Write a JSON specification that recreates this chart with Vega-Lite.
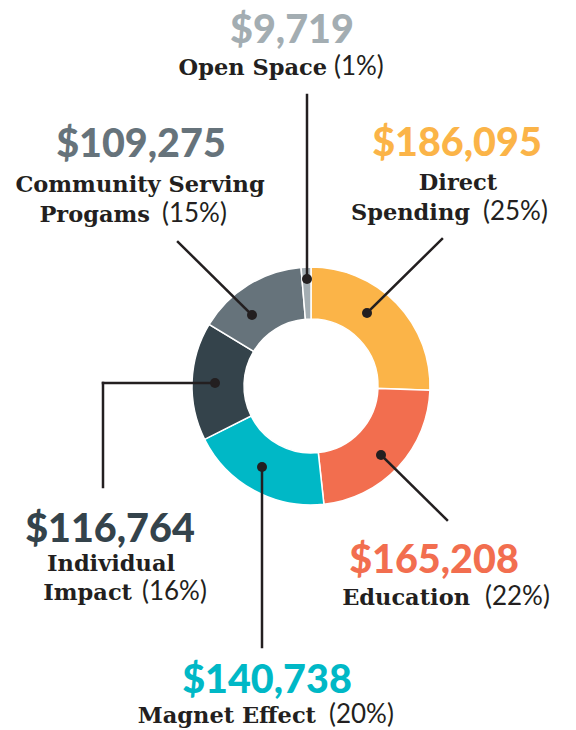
{
  "$schema": "https://vega.github.io/schema/vega-lite/v6.json",
  "width": 576,
  "height": 730,
  "autosize": {"type": "fit", "contains": "padding"},
  "padding": 0,
  "background": "white",
  "config": {"view": {"stroke": null}},
  "datasets": {
    "slices": [
      {"category": "Direct Spending", "amount": 186095, "rank": 1},
      {"category": "Education", "amount": 165208, "rank": 2},
      {"category": "Magnet Effect", "amount": 140738, "rank": 3},
      {"category": "Individual Impact", "amount": 116764, "rank": 4},
      {"category": "Community Serving Progams", "amount": 109275, "rank": 5},
      {"category": "Open Space", "amount": 9719, "rank": 6}
    ],
    "leaders": [
      {"category": "Open Space", "x1": -4, "y1": 107, "x2": -4, "y2": 291},
      {"category": "Community Serving Progams", "x1": -59, "y1": 71, "x2": -133, "y2": 144},
      {"category": "Direct Spending", "x1": 56, "y1": 73, "x2": 131, "y2": 147},
      {"category": "Individual Impact", "x1": -96, "y1": 3, "x2": -208, "y2": 3},
      {"category": "Individual Impact", "x1": -208, "y1": 3, "x2": -208, "y2": -101},
      {"category": "Education", "x1": 70, "y1": -69, "x2": 136, "y2": -134},
      {"category": "Magnet Effect", "x1": -49, "y1": -81, "x2": -49, "y2": -261}
    ],
    "dots": [
      {"category": "Open Space", "x": -4, "y": 107},
      {"category": "Community Serving Progams", "x": -59, "y": 71},
      {"category": "Direct Spending", "x": 56, "y": 73},
      {"category": "Individual Impact", "x": -96, "y": 3},
      {"category": "Education", "x": 70, "y": -69},
      {"category": "Magnet Effect", "x": -49, "y": -81}
    ],
    "texts": [
      {"part": "value", "category": "Open Space", "text": "$9,719", "x": -19, "y": 343},
      {"part": "value", "category": "Community Serving Progams", "text": "$109,275", "x": -170, "y": 229},
      {"part": "value", "category": "Direct Spending", "text": "$186,095", "x": 146, "y": 230},
      {"part": "value", "category": "Individual Impact", "text": "$116,764", "x": -201, "y": -156},
      {"part": "value", "category": "Education", "text": "$165,208", "x": 123, "y": -187},
      {"part": "value", "category": "Magnet Effect", "text": "$140,738", "x": -44, "y": -307},
      {"part": "namecenter", "category": "Community Serving Progams", "text": "Community Serving", "x": -171, "y": 194},
      {"part": "namecenter", "category": "Direct Spending", "text": "Direct", "x": 147, "y": 196},
      {"part": "namecenter", "category": "Individual Impact", "text": "Individual", "x": -200, "y": -185},
      {"part": "nameright", "category": "Open Space", "text": "Open Space", "x": 16, "y": 311},
      {"part": "nameright", "category": "Community Serving Progams", "text": "Progams", "x": -161, "y": 164},
      {"part": "nameright", "category": "Direct Spending", "text": "Spending", "x": 159, "y": 166},
      {"part": "nameright", "category": "Individual Impact", "text": "Impact", "x": -179, "y": -214},
      {"part": "nameright", "category": "Education", "text": "Education", "x": 159, "y": -219},
      {"part": "nameright", "category": "Magnet Effect", "text": "Magnet Effect", "x": 5, "y": -337},
      {"part": "pct", "category": "Open Space", "text": "(1%)", "x": 23, "y": 311},
      {"part": "pct", "category": "Community Serving Progams", "text": "(15%)", "x": -149, "y": 164},
      {"part": "pct", "category": "Direct Spending", "text": "(25%)", "x": 172, "y": 166},
      {"part": "pct", "category": "Individual Impact", "text": "(16%)", "x": -169, "y": -214},
      {"part": "pct", "category": "Education", "text": "(22%)", "x": 174, "y": -219},
      {"part": "pct", "category": "Magnet Effect", "text": "(20%)", "x": 18, "y": -337}
    ]
  },
  "layer": [
    {
      "data": {"name": "slices"},
      "mark": {"type": "arc", "innerRadius": 67, "outerRadius": 119, "stroke": "white", "strokeWidth": 1.5},
      "encoding": {
        "x": {"datum": 0, "type": "quantitative", "scale": {"domain": [-311, 265], "nice": false, "zero": false}, "axis": null},
        "y": {"datum": 0, "type": "quantitative", "scale": {"domain": [-344, 386], "nice": false, "zero": false}, "axis": null},
        "theta": {"field": "amount", "type": "quantitative", "stack": true},
        "order": {"field": "rank", "type": "quantitative"},
        "color": {
          "field": "category", "type": "nominal", "legend": null,
          "scale": {
            "domain": ["Direct Spending", "Education", "Magnet Effect", "Individual Impact", "Community Serving Progams", "Open Space"],
            "range": ["#FBB448", "#F26E4F", "#00B8C6", "#34434B", "#66737B", "#A3ADB2"]
          }
        }
      }
    },
    {
      "data": {"name": "leaders"},
      "mark": {"type": "rule", "color": "#231F20", "strokeWidth": 2.5, "strokeCap": "square"},
      "encoding": {
        "x": {"field": "x1", "type": "quantitative", "scale": {"domain": [-311, 265], "nice": false, "zero": false}, "axis": null},
        "y": {"field": "y1", "type": "quantitative", "scale": {"domain": [-344, 386], "nice": false, "zero": false}, "axis": null},
        "x2": {"field": "x2"},
        "y2": {"field": "y2"}
      }
    },
    {
      "data": {"name": "dots"},
      "mark": {"type": "circle", "color": "#231F20", "opacity": 1, "size": 100},
      "encoding": {
        "x": {"field": "x", "type": "quantitative", "scale": {"domain": [-311, 265], "nice": false, "zero": false}, "axis": null},
        "y": {"field": "y", "type": "quantitative", "scale": {"domain": [-344, 386], "nice": false, "zero": false}, "axis": null}
      }
    },
    {
      "data": {"name": "texts"},
      "transform": [{"filter": "datum.part === 'value'"}],
      "mark": {"type": "text", "font": "Lato", "fontWeight": 900, "fontSize": 39.5, "align": "center", "baseline": "alphabetic"},
      "encoding": {
        "x": {"field": "x", "type": "quantitative", "scale": {"domain": [-311, 265], "nice": false, "zero": false}, "axis": null},
        "y": {"field": "y", "type": "quantitative", "scale": {"domain": [-344, 386], "nice": false, "zero": false}, "axis": null},
        "text": {"field": "text"},
        "color": {
          "field": "category", "type": "nominal", "legend": null,
          "scale": {
            "domain": ["Direct Spending", "Education", "Magnet Effect", "Individual Impact", "Community Serving Progams", "Open Space"],
            "range": ["#FBB448", "#F26E4F", "#00B8C6", "#34434B", "#66737B", "#8C989E"]
          }
        }
      }
    },
    {
      "data": {"name": "texts"},
      "transform": [{"filter": "datum.part === 'namecenter'"}],
      "mark": {"type": "text", "font": "DejaVu Serif", "fontWeight": "bold", "fontSize": 22.5, "align": "center", "baseline": "alphabetic", "color": "#231F20"},
      "encoding": {
        "x": {"field": "x", "type": "quantitative", "scale": {"domain": [-311, 265], "nice": false, "zero": false}, "axis": null},
        "y": {"field": "y", "type": "quantitative", "scale": {"domain": [-344, 386], "nice": false, "zero": false}, "axis": null},
        "text": {"field": "text"}
      }
    },
    {
      "data": {"name": "texts"},
      "transform": [{"filter": "datum.part === 'nameright'"}],
      "mark": {"type": "text", "font": "DejaVu Serif", "fontWeight": "bold", "fontSize": 22.5, "align": "right", "baseline": "alphabetic", "color": "#231F20"},
      "encoding": {
        "x": {"field": "x", "type": "quantitative", "scale": {"domain": [-311, 265], "nice": false, "zero": false}, "axis": null},
        "y": {"field": "y", "type": "quantitative", "scale": {"domain": [-344, 386], "nice": false, "zero": false}, "axis": null},
        "text": {"field": "text"}
      }
    },
    {
      "data": {"name": "texts"},
      "transform": [{"filter": "datum.part === 'pct'"}],
      "mark": {"type": "text", "font": "Lato", "fontWeight": "normal", "fontSize": 26, "align": "left", "baseline": "alphabetic", "color": "#231F20"},
      "encoding": {
        "x": {"field": "x", "type": "quantitative", "scale": {"domain": [-311, 265], "nice": false, "zero": false}, "axis": null},
        "y": {"field": "y", "type": "quantitative", "scale": {"domain": [-344, 386], "nice": false, "zero": false}, "axis": null},
        "text": {"field": "text"}
      }
    }
  ]
}
